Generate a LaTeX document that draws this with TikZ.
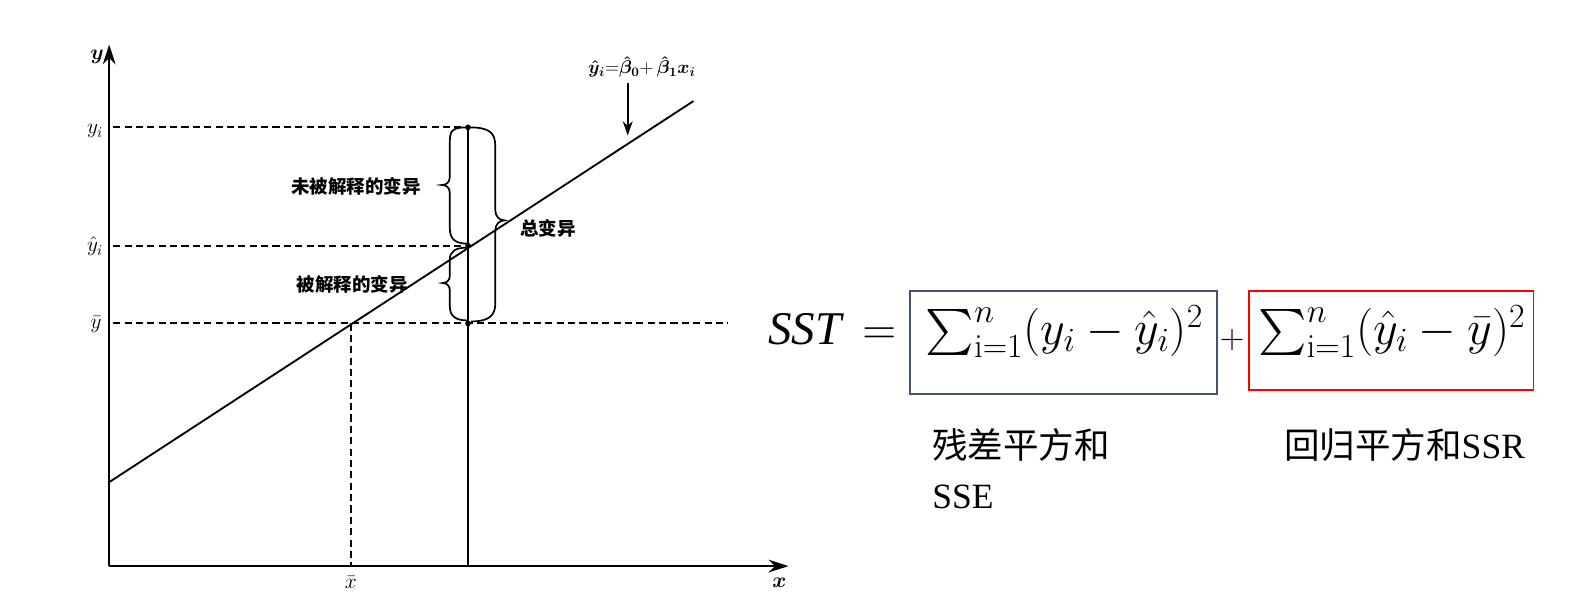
\documentclass[tikz,border=0pt]{standalone}
\usepackage{fix-cm}
\usepackage{amsmath}
\usepackage{graphicx}
\usepackage{fontspec}
\newfontfamily\cjk{Noto Sans CJK SC}
\newfontfamily\serifb{Liberation Serif}
\usetikzlibrary{arrows.meta}
\definecolor{boxblue}{HTML}{44546A}
\definecolor{boxred}{HTML}{FF0000}
\newcommand{\bigsum}{\mathop{\vcenter{\hbox{\scalebox{1.3}{$\sum$}}}}\nolimits}
\tikzset{
  axisline/.style={line width=1.3pt,-{Stealth[length=14pt,width=9pt]}},
  dashline/.style={line width=1.4pt,dash pattern=on 5pt off 3pt},
  regline/.style={line width=1.3pt},
  lbl/.style={font=\fontsize{15}{18}\selectfont,inner sep=1pt},
  eqlbl/.style={font=\fontsize{13}{16}\selectfont,inner sep=1pt},
  cjklbl/.style={font=\cjk\bfseries\fontsize{13}{15}\selectfont,inner sep=1pt},
  bracestyle/.style={line width=1.2pt},
  dot/.style={circle,fill=black,inner sep=0pt,minimum size=4pt},
  eqtext/.style={inner sep=0pt,font=\fontsize{34}{40}\selectfont},
  sstfont/.style={inner sep=0pt,font=\fontsize{33}{40}\selectfont},
  plusfont/.style={inner sep=0pt,font=\fontsize{24}{28}\selectfont},
  eqbox/.style={line width=1.3pt},
  bigtxt/.style={font=\serifb\fontsize{25}{35}\selectfont,inner sep=0pt}
}
\begin{document}
\begin{tikzpicture}[x=0.025cm,y=-0.025cm]
\useasboundingbox (0,0) rectangle (1568,596);
% axes
\coordinate (O) at (108,560);
\coordinate (Ytop) at (108,44);
\coordinate (Xend) at (780,560);
\draw[axisline] (O) -- (Ytop);
\draw[axisline] (O) -- (Xend);
% key points
\coordinate (Pi) at (463,126);
\coordinate (Ph) at (463,243);
\coordinate (Pb) at (463,320);
\coordinate (Pm) at (347,320);
\coordinate (Ai) at (112,126);
\coordinate (Ah) at (112,243);
\coordinate (Ab) at (112,320);
\coordinate (Be) at (720,320);
\coordinate (Xm) at (347,560);
\coordinate (Xi) at (463,560);
\coordinate (L0) at (108,477);
\coordinate (L1) at (686,100);
% lines
\draw[dashline] (Ai) -- (Pi);
\draw[dashline] (Ah) -- (Ph);
\draw[dashline] (Ab) -- (Be);
\draw[dashline] (Pm) -- (Xm);
\draw[regline] (Pi) -- (Xi);
\draw[regline] (L0) -- (L1);
\node[dot] (di) at (Pi) {};
\node[dot] (dh) at (Ph) {};
\node[dot] (db) at (Pb) {};
% axis labels
\node[lbl] (ylab) at (96,56) {$\boldsymbol{y}$};
\node[lbl] (xlab) at (771,577) {$\boldsymbol{x}$};
\node[lbl] (yilab) at (94,130) {$y_i$};
\node[lbl] (yhlab) at (94,244) {$\hat{y}_i$};
\node[lbl] (yblab) at (95,321) {$\bar{y}$};
\node[lbl] (xblab) at (347,576) {$\bar{x}$};
% equation label and arrow
\node[eqlbl] (eq) at (635,66) {$\boldsymbol{\hat{y}_i}{=}\boldsymbol{\hat{\beta}_0}{+}\,\boldsymbol{\hat{\beta}_1x_i}$};
\coordinate (Atip) at (621,134);
\draw[line width=1.3pt,-{Stealth[length=10pt,width=7pt]}] (eq.south -| Atip) ++(0,4) -- (Atip);
% braces (drawn by hand)
\draw[bracestyle] (462,126) .. controls (446,126) and (445,130) .. (445,142)
  -- (445,175) .. controls (445,181) and (441,183) .. (437,183)
  .. controls (441,183) and (445,185) .. (445,191)
  -- (445,226) .. controls (445,236) and (450,241) .. (462,241);
\draw[bracestyle] (462,245) .. controls (450,245) and (445,249) .. (445,257)
  -- (445,273) .. controls (445,278) and (441,280) .. (438,280)
  .. controls (441,280) and (445,282) .. (445,287)
  -- (445,303) .. controls (445,312) and (450,317) .. (462,317);
\draw[bracestyle] (464,126) .. controls (484,126) and (490,131) .. (490,145)
  -- (490,208) .. controls (490,214) and (494,218) .. (499,218)
  .. controls (494,218) and (490,222) .. (490,228)
  -- (490,300) .. controls (490,312) and (484,318) .. (466,318);
\node[cjklbl,anchor=east] (unexp) at (418,184) {未被解释的变异};
\node[cjklbl,anchor=east] (expl) at (405,281) {被解释的变异};
\node[cjklbl,anchor=west] (tot) at (513,226) {总变异};
% right formula
\node[sstfont,anchor=base west] (sst) at (760,341) {{\serifb\itshape SST}\;\,$=$};
\draw[eqbox,draw=boxblue] (900,288) rectangle (1204,390);
\node[eqtext,anchor=base] (s1) at (1053,341) {$\bigsum_{\mathrm{i}=1}^{n}(y_i-\hat{y}_i)^2$};
\node[plusfont] (plus) at (1219,336) {$+$};
\draw[eqbox,draw=boxred] (1236,288) rectangle (1517,386);
\node[eqtext,anchor=base] (s2) at (1377,341) {$\bigsum_{\mathrm{i}=1}^{n}(\hat{y}_i-\bar{y})^2$};
\node[bigtxt,anchor=north west,align=left] (sse) at (922,424) {{\cjk 残差平方和}\\SSE};
\node[bigtxt,anchor=north west] (ssr) at (1270,424) {{\cjk 回归平方和}SSR};
\end{tikzpicture}
\end{document}
